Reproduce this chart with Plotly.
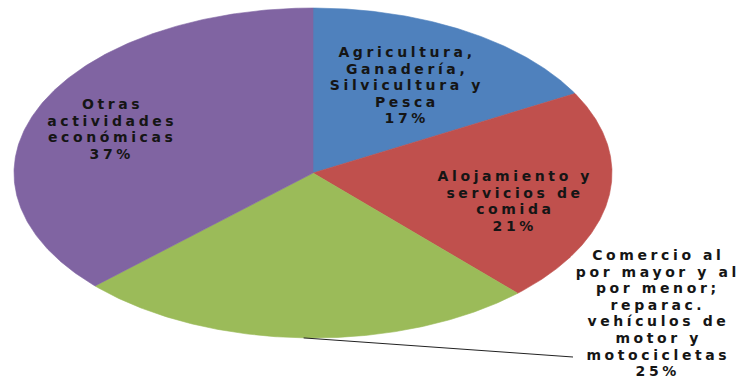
import numpy as np
import plotly.graph_objects as go

# ---- data ----
categories = [
    "Agricultura,<br>Ganadería,<br>Silvicultura y<br>Pesca",
    "Alojamiento y<br>servicios de<br>comida",
    "Comercio al<br>por mayor y al<br>por menor;<br>reparac.<br>vehículos de<br>motor y<br>motocicletas",
    "Otras<br>actividades<br>económicas",
]
values = [17, 21, 25, 37]

# ---- style / layout ----
colors = ["#4F81BD", "#C0504D", "#9BBB59", "#8064A2"]
W, H = 747, 379
CX, CY, RX, RY = 313, 173, 299, 165          # ellipse geometry (pixels)
PITCH = 16.6
label_pos = [(407, 52), (515, 176), (658, 255), (112, 104)]
leader_slice = 2
leader_end = (573, 357)
font = dict(family="DejaVu Sans", size=14, color="#151515", weight="bold")

fig = go.Figure()
total = float(sum(values))
cum = 0.0
mids = []
for cat, v, col in zip(categories, values, colors):
    t0 = cum / total * 2 * np.pi
    t1 = (cum + v) / total * 2 * np.pi
    cum += v
    mids.append((t0 + t1) / 2)
    th = np.linspace(t0, t1, 240)
    xs = np.concatenate([[CX], CX + RX * np.sin(th), [CX]])
    ys = np.concatenate([[CY], CY - RY * np.cos(th), [CY]])
    fig.add_trace(go.Scatter(
        x=xs, y=ys, fill="toself", fillcolor=col, mode="lines",
        line=dict(color=col, width=0.6), hoverinfo="skip",
        showlegend=False, name=cat.replace("<br>", " ")))

# leader line for the outside label
tm = mids[leader_slice]
fig.add_trace(go.Scatter(
    x=[CX + RX * np.sin(tm), leader_end[0]],
    y=[CY - RY * np.cos(tm), leader_end[1]],
    mode="lines", line=dict(color="#222222", width=1),
    hoverinfo="skip", showlegend=False))

annotations = []
for cat, v, (lx, ly) in zip(categories, values, label_pos):
    lines = cat.split("<br>") + [f"{v}%"]
    for i, ln in enumerate(lines):
        annotations.append(dict(
            x=lx, y=ly + i * PITCH, xref="x", yref="y", text=ln,
            showarrow=False, xanchor="center", yanchor="middle",
            borderpad=0, font=font))

fig.update_layout(
    width=W, height=H, autosize=False,
    margin=dict(l=0, r=0, t=0, b=0),
    paper_bgcolor="white", plot_bgcolor="white",
    xaxis=dict(range=[0, W], visible=False, fixedrange=True),
    yaxis=dict(range=[H, 0], visible=False, fixedrange=True),
    annotations=annotations,
    showlegend=False,
)

post = ("var s=document.createElement('style');"
        "s.innerHTML='body{margin:0;overflow:hidden} .annotation-text{letter-spacing:3.6px}';"
        "document.head.appendChild(s);")
fig.write_html("out.html", config={"displayModeBar": False}, post_script=post)
